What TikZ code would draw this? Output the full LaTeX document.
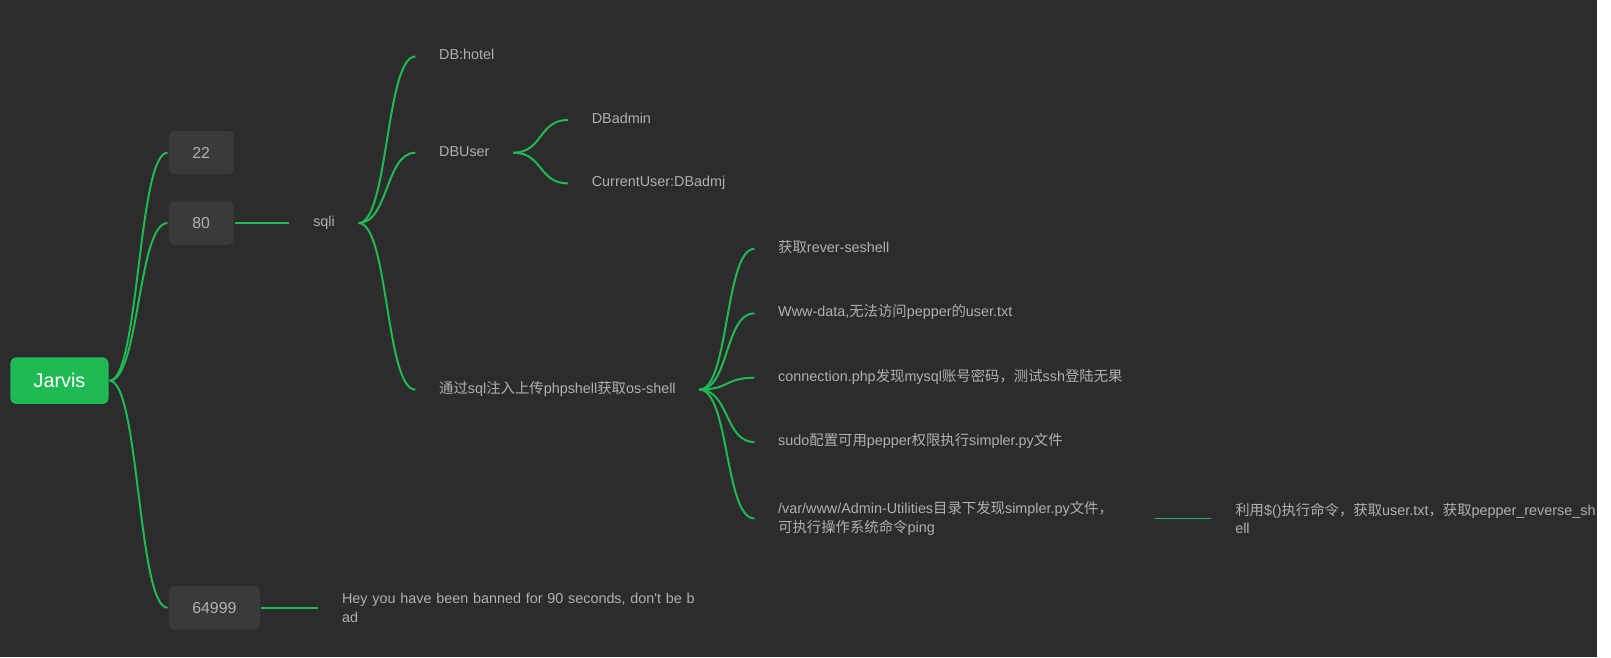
\documentclass[tikz,border=0pt]{standalone}
\usepackage{fontspec}
\setmainfont{Liberation Sans}[Ligatures=TeXOff]
\newfontfamily\cjk{Noto Sans CJK SC}
\newcommand\zh[1]{{\cjk #1}}

\definecolor{mapbg}{RGB}{44,44,44}
\definecolor{portgray}{RGB}{58,58,58}
\definecolor{mapgreen}{RGB}{32,186,84}
\definecolor{labelgray}{RGB}{176,176,176}

\tikzset{every picture/.style={line width=2pt},
  root/.style={fill=mapgreen, rounded corners=6pt, text=white, inner sep=0pt,
    minimum width=99pt, minimum height=47pt, font=\fontsize{20}{24}\selectfont},
  port/.style={fill=portgray, rounded corners=6pt, text=labelgray, inner xsep=24pt,
    inner ysep=0pt, minimum width=64pt, minimum height=44pt, anchor=west,
    font=\fontsize{16}{19}\selectfont},
  note/.style={text=labelgray, inner xsep=23pt, inner ysep=0pt, anchor=west,
    font=\fontsize{14.5}{19}\selectfont},
  leaf/.style={note, text height=10pt, text depth=3pt},
  wide/.style={note, text width=356pt, align=left},
  branch/.style={draw=mapgreen}
}

\begin{document}
\begin{tikzpicture}[x=1pt, y=-1pt]
  % Fond
  \fill[mapbg] (0,0) rectangle (1611,663);

  % Racine et ports
  \node[root] (jarvis) at (60,384) {Jarvis};
  \node[port] (p22) at (169,154) {22};
  \node[port] (p80) at (169,225) {80};
  \node[port] (p64999) at (169,613) {64999};

  % Branche sqli
  \node[leaf] (sqli) at (292,225) {sqli};
  \node[leaf] (dbhotel) at (419,57) {DB:hotel};
  \node[leaf] (dbuser) at (419,154) {DBUser};
  \node[leaf] (dbadmin) at (573,121) {DBadmin};
  \node[leaf] (curuser) at (573,185) {CurrentUser:DBadmj};
  \node[leaf] (osshell) at (419,393) {\zh{通过}sql\zh{注入上传}phpshell\zh{获取}os-shell};

  % Etapes apres os-shell
  \node[leaf] (revshell) at (761,251) {\zh{获取}rever-seshell};
  \node[leaf] (wwwdata) at (761,316) {Www-data,\zh{无法访问}pepper\zh{的}user.txt};
  \node[leaf] (connphp) at (761,381) {connection.php\zh{发现}mysql\zh{账号密码，测试}ssh\zh{登陆无果}};
  \node[leaf] (sudocfg) at (761,446) {sudo\zh{配置可用}pepper\zh{权限执行}simpler.py\zh{文件}};
  \node[wide] (varwww) at (761,523) {/var/www/Admin-Utilities\zh{目录下发现}simpler.py\zh{文件，}\\\zh{可执行操作系统命令}ping};
  \node[wide] (dollar) at (1222,523) {\zh{利用}\$()\zh{执行命令，获取}user.txt\zh{，获取}pepper\_reverse\_sh\\ell};

  % Port 64999
  \node[wide] (banned) at (321,613) {Hey you have been banned for 90 seconds, don't be b\\ad};

  % Liens courbes
  \foreach \a/\b in {jarvis/p22, jarvis/p80, jarvis/p64999,
    sqli/dbhotel, sqli/dbuser, sqli/osshell, dbuser/dbadmin, dbuser/curuser,
    osshell/revshell, osshell/wwwdata, osshell/connphp, osshell/sudocfg, osshell/varwww}
    {
      \draw[branch] (\a.east) .. controls +(30,0) and +(-30,0) .. (\b.west);
    }

  % Liens droits
  \draw[branch] (p80.east) -- (sqli.west);
  \draw[branch] (varwww.east) -- (dollar.west);
  \draw[branch] (p64999.east) -- (banned.west);
\end{tikzpicture}
\end{document}
